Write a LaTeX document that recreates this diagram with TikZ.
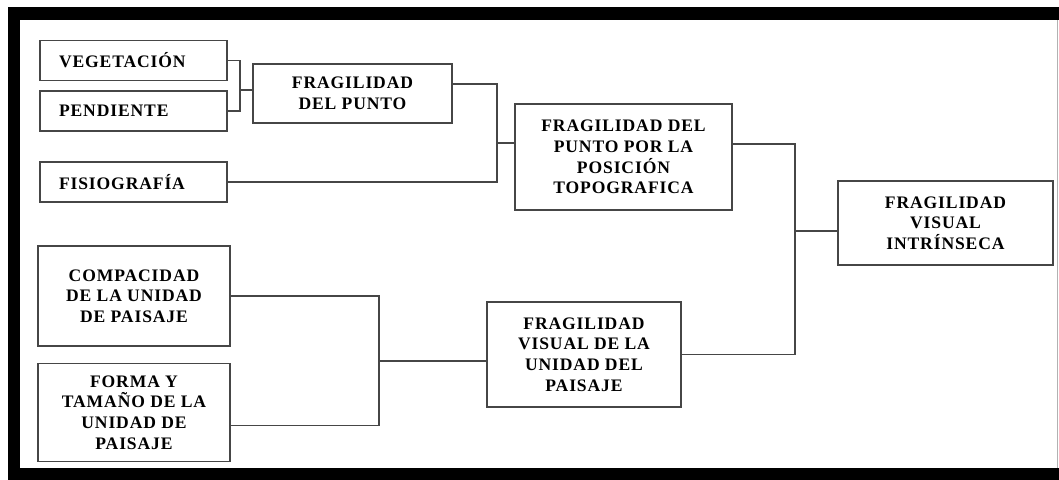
\documentclass[tikz,border=0pt]{standalone}
\usepackage{fontspec}
\setmainfont{Liberation Serif}[LetterSpace=5]
\usetikzlibrary{positioning}
\definecolor{lineColor}{RGB}{70,70,70}
\tikzset{factor/.style={draw=lineColor, line width=0.9pt, align=center, inner sep=1pt, font=\bfseries\fontsize{10}{11.8}\selectfont}}
\tikzset{leaf/.style={factor, align=left, text width=2.98cm, inner xsep=0.38cm, minimum height=0.8cm}}

\begin{document}
\begin{tikzpicture}[x=0.02cm, y=-0.02cm]
\useasboundingbox (0,0) rectangle (1059,480);
% Frame
\draw[line width=0.26cm] (14,13.5) rectangle (1090,474);
\draw[black!30, line width=0.5pt] (1057,20) -- (1057,468);

% Nodes
\node (veg) [leaf] at (133.5,60.5) {VEGETACIÓN};
\node (pen) [leaf, below=0.18cm of veg] {PENDIENTE};
\node (fisio) [leaf] at (133.5,182) {FISIOGRAFÍA};

\node (punto) [factor, minimum width=3.98cm, minimum height=1.18cm] at (352.5,93.5) {FRAGILIDAD\\DEL PUNTO};
\node (posicion) [factor, minimum width=4.34cm, minimum height=2.12cm] at (623.5,157) {FRAGILIDAD DEL\\PUNTO POR LA\\POSICIÓN\\TOPOGRAFICA};
\node (fvi) [factor, minimum width=4.3cm, minimum height=1.68cm] at (945.5,223) {FRAGILIDAD\\VISUAL\\INTRÍNSECA};

\node (compacidad) [factor, minimum width=3.84cm, minimum height=2cm] at (134,296) {COMPACIDAD\\DE LA UNIDAD\\DE PAISAJE};
\node (forma) [factor, minimum width=3.84cm, minimum height=1.96cm, below=0.32cm of compacidad] {FORMA Y\\TAMAÑO DE LA\\UNIDAD DE\\PAISAJE};
\node (fvup) [factor, minimum width=3.88cm, minimum height=2.1cm] at (584,354.5) {FRAGILIDAD\\VISUAL DE LA\\UNIDAD DEL\\PAISAJE};

% Connectors
\coordinate (j1) at (240,90);
\coordinate (j2) at (497,143);
\coordinate (j3) at (795,231);
\coordinate (j4) at (379,361);

\begin{scope}[draw=lineColor, line width=0.8pt]
\draw (veg.east) -| (j1) |- (pen.east);
\draw (j1) -- (j1 -| punto.west);

\draw ([yshift=0.19cm]punto.east) -| (j2) |- (fisio.east);
\draw (j2) -- (j2 -| posicion.west);

\draw ([yshift=0.26cm]posicion.east) -| (j3) |- (fvup.east);
\draw (j3) -- (j3 -| fvi.west);

\draw (compacidad.east) -| (j4) |- ([yshift=-0.26cm]forma.east);
\draw (j4) -- (j4 -| fvup.west);
\end{scope}

\end{tikzpicture}
\end{document}
